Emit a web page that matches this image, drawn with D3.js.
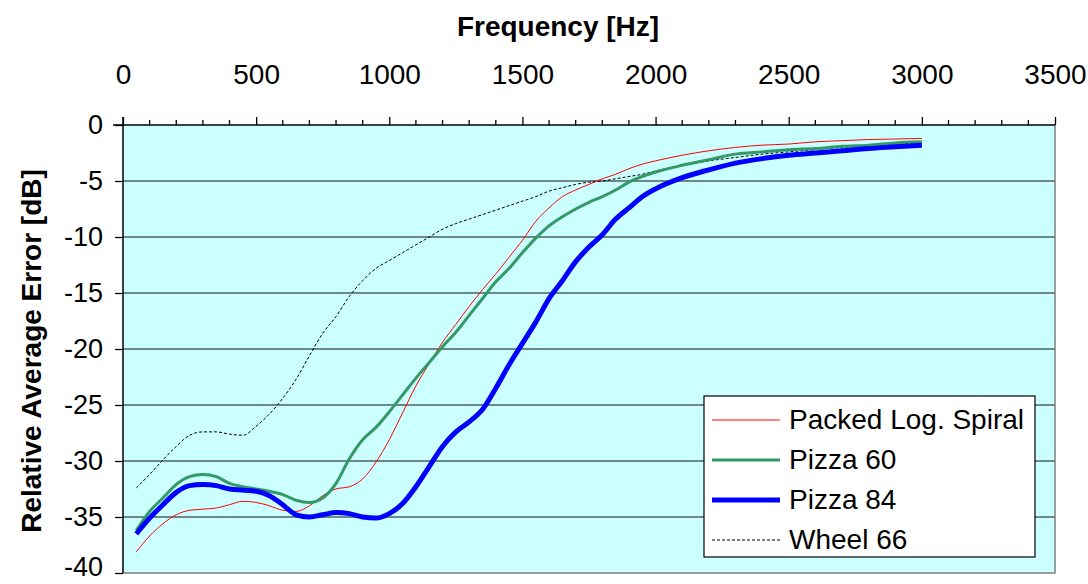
<!DOCTYPE html>
<html>
<head>
<meta charset="utf-8">
<script src="https://cdn.jsdelivr.net/npm/d3@7"></script>
<style>
  html, body { margin: 0; padding: 0; background: #fff; }
  svg { display: block; font-family: "Liberation Sans", Arial, sans-serif; }
</style>
</head>
<body>
<svg id="chart" width="1088" height="584"></svg>
<script>
// frequency grid (Hz)
const freq = [50,100,150,200,250,300,350,400,450,500,550,600,650,700,750,800,850,900,950,1000,
  1050,1100,1150,1200,1250,1300,1350,1400,1450,1500,1550,1600,1650,1700,1750,1800,1850,1900,1950,2000,
  2100,2200,2300,2400,2500,2600,2700,2800,2900,3000];

// relative average error (dB)
const packedLogSpiral = [-38.1,-36.7,-35.6,-34.8,-34.4,-34.3,-34.2,-33.9,-33.6,-33.7,-34.0,-34.4,-34.5,-34.0,-33.1,-32.5,-32.3,-31.6,-30.1,-28.1,
  -25.7,-23.3,-21.3,-19.4,-17.8,-16.2,-14.7,-13.3,-11.8,-10.3,-8.6,-7.4,-6.4,-5.8,-5.3,-4.8,-4.4,-3.9,-3.5,-3.2,
  -2.7,-2.3,-2.0,-1.8,-1.7,-1.5,-1.4,-1.3,-1.25,-1.2];
const pizza60 = [-36.2,-34.5,-33.3,-32.1,-31.4,-31.2,-31.4,-32.0,-32.3,-32.5,-32.7,-33.0,-33.5,-33.7,-33.3,-32.0,-29.8,-28.1,-27.0,-25.6,
  -24.1,-22.6,-21.2,-19.8,-18.5,-17.0,-15.5,-14.0,-12.8,-11.4,-10.1,-9.0,-8.2,-7.5,-6.9,-6.4,-5.8,-5.1,-4.6,-4.2,
  -3.6,-3.1,-2.6,-2.4,-2.2,-2.1,-1.9,-1.8,-1.6,-1.5];
const pizza84 = [-36.5,-35.1,-33.9,-32.8,-32.2,-32.1,-32.2,-32.5,-32.6,-32.7,-33.1,-33.9,-34.8,-35.0,-34.8,-34.6,-34.7,-35.0,-35.1,-34.7,
  -33.8,-32.3,-30.5,-28.7,-27.4,-26.5,-25.4,-23.5,-21.4,-19.5,-17.6,-15.5,-13.9,-12.2,-10.9,-9.8,-8.4,-7.4,-6.4,-5.7,
  -4.7,-4.0,-3.4,-3.0,-2.7,-2.5,-2.3,-2.1,-1.95,-1.8];
const wheel66 = [-32.4,-31.2,-29.9,-28.7,-27.7,-27.4,-27.4,-27.6,-27.7,-26.9,-25.8,-24.4,-22.7,-20.6,-18.6,-17.1,-15.3,-13.9,-12.8,-12.1,
  -11.4,-10.7,-10.0,-9.3,-8.8,-8.4,-8.0,-7.6,-7.2,-6.8,-6.4,-5.9,-5.6,-5.3,-5.1,-5.0,-4.8,-4.6,-4.4,-4.1,
  -3.6,-3.2,-2.9,-2.6,-2.4,-2.2,-2.0,-1.9,-1.7,-1.6];

const xTicks = [0,500,1000,1500,2000,2500,3000,3500];
const yTicks = [0,-5,-10,-15,-20,-25,-30,-35,-40];

const series = [
  { name: 'Packed Log. Spiral', values: packedLogSpiral, color: '#ff0000', width: 1, dash: null },
  { name: 'Pizza 60', values: pizza60, color: '#339966', width: 3, dash: null },
  { name: 'Pizza 84', values: pizza84, color: '#0000ff', width: 5, dash: null },
  { name: 'Wheel 66', values: wheel66, color: '#000000', width: 1, dash: '3,2' }
];

const svg = d3.select('#chart');
const m = { l: 123, r: 1055, t: 125, b: 573 };

const x = d3.scaleLinear().domain([0, 3500]).range([m.l, m.r]);
const y = d3.scaleLinear().domain([-40, 0]).range([m.b, m.t]);

// plot background
svg.append('rect').attr('x', m.l).attr('y', m.t)
  .attr('width', m.r - m.l).attr('height', m.b - m.t)
  .attr('fill', '#ccffff');

// gridlines
svg.append('g').selectAll('line').data(yTicks.filter(d => d > -40 && d < 0)).join('line')
  .attr('x1', m.l).attr('x2', m.r)
  .attr('y1', d => y(d)).attr('y2', d => y(d))
  .attr('stroke', '#111').attr('stroke-width', 1.2);

// gray frame right/bottom
svg.append('path')
  .attr('d', `M${m.l},${m.b}H${m.r}V${m.t}`)
  .attr('fill', 'none').attr('stroke', '#808080').attr('stroke-width', 1.5);

// top axis (major + minor ticks)
const xAxis = d3.axisTop(x).tickValues(xTicks).tickSize(8).tickSizeOuter(0).tickPadding(33)
  .tickFormat(d => String(d));
const gx = svg.append('g').attr('transform', `translate(0,${m.t})`).call(xAxis);
gx.select('.domain').remove();
gx.selectAll('.tick line').attr('stroke', '#000').attr('stroke-width', 1.3);
gx.selectAll('.tick text').attr('font-size', 28).attr('fill', '#000');
svg.append('g').selectAll('line').data(d3.range(100, 3500, 100).filter(d => d % 500 !== 0)).join('line')
  .attr('x1', d => x(d)).attr('x2', d => x(d))
  .attr('y1', m.t - 5).attr('y2', m.t)
  .attr('stroke', '#000').attr('stroke-width', 1.3);
svg.append('line').attr('x1', m.l - 10).attr('x2', m.r).attr('y1', m.t).attr('y2', m.t)
  .attr('stroke', '#000').attr('stroke-width', 1.5);

// left axis (hyphen-minus labels, as in the original)
const yAxis = d3.axisLeft(y).tickValues(yTicks).tickSize(8).tickSizeOuter(0).tickPadding(12)
  .tickFormat(d => String(d));
const gy = svg.append('g').attr('transform', `translate(${m.l},0)`).call(yAxis);
gy.select('.domain').remove();
gy.selectAll('.tick line').attr('stroke', '#000').attr('stroke-width', 1.3);
gy.selectAll('.tick text').attr('font-size', 27).attr('fill', '#000')
  .attr('dy', d => d === -40 ? '0.08em' : '0.3em');
svg.append('line').attr('x1', m.l).attr('x2', m.l).attr('y1', m.t - 8).attr('y2', m.b)
  .attr('stroke', '#000').attr('stroke-width', 1.5);

// axis titles
svg.append('text').attr('x', 558).attr('y', 36)
  .attr('text-anchor', 'middle').attr('font-size', 28).attr('font-weight', 'bold')
  .text('Frequency [Hz]');
svg.append('text').attr('transform', `translate(41,${(m.t + m.b) / 2 + 2}) rotate(-90)`)
  .attr('text-anchor', 'middle').attr('font-size', 28).attr('font-weight', 'bold')
  .text('Relative Average Error [dB]');

// series lines
const line = d3.line()
  .x((d, i) => x(freq[i]))
  .y(d => y(d))
  .curve(d3.curveMonotoneX);

const order = [series[3], series[0], series[1], series[2]];
svg.append('g').selectAll('path').data(order).join('path')
  .attr('d', s => line(s.values))
  .attr('fill', 'none')
  .attr('stroke', s => s.color)
  .attr('stroke-width', s => s.width)
  .attr('stroke-dasharray', s => s.dash)
  .attr('stroke-linejoin', 'round');

// legend
const lg = svg.append('g');
lg.append('rect').attr('x', 704).attr('y', 396).attr('width', 331).attr('height', 161)
  .attr('fill', '#fff').attr('stroke', '#000').attr('stroke-width', 1.2);
const rows = lg.selectAll('g.row').data(series).join('g').attr('class', 'row')
  .attr('transform', (d, i) => `translate(0,${420 + i * 40})`);
rows.append('line').attr('x1', 712).attr('x2', 780).attr('y1', 0).attr('y2', 0)
  .attr('stroke', d => d.color).attr('stroke-width', d => d.width)
  .attr('stroke-dasharray', d => d.dash);
rows.append('text').attr('x', 789).attr('y', 9).attr('font-size', 28).text(d => d.name);
</script>
</body>
</html>
